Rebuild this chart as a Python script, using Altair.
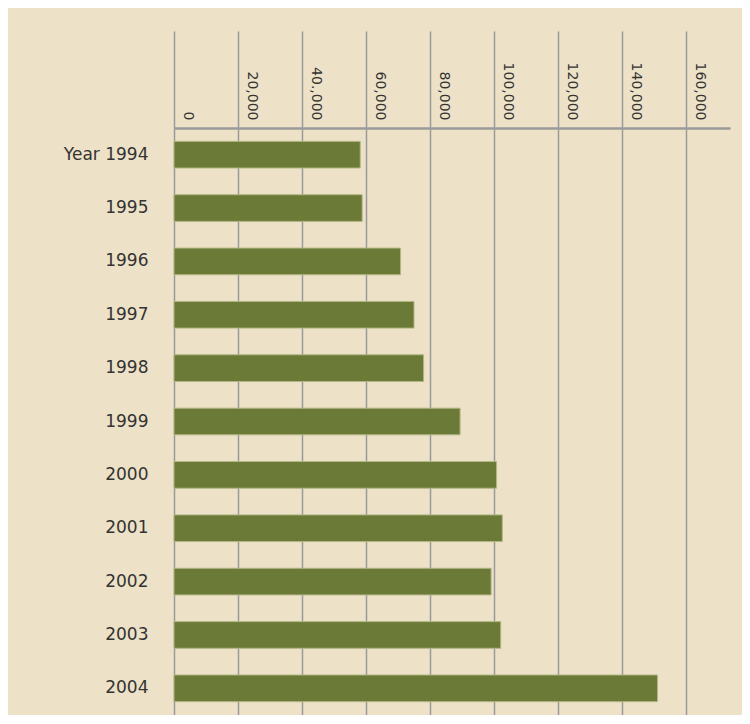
import altair as alt
import pandas as pd

years = ["Year 1994", "1995", "1996", "1997", "1998", "1999",
         "2000", "2001", "2002", "2003", "2004"]
visitors = [58200, 58800, 70800, 75000, 78000, 89400,
            100800, 102600, 99100, 102100, 151100]
tick_values = [0, 20000, 40000, 60000, 80000, 100000, 120000, 140000, 160000]
tick_labels = ["0", "20,000", "40.,000", "60,000", "80,000",
               "100,000", "120,000", "140,000", "160,000"]

df = pd.DataFrame({"year": years, "value": visitors})
label_expr = "[" + ",".join(f"'{t}'" for t in tick_labels) + "][round(datum.value / 20000)]"

GRID = "#9a9a9a"

chart = alt.Chart(df).mark_bar(
    color="#6B7A37", stroke="#B3B785", strokeWidth=1
).encode(
    x=alt.X(
        "value:Q",
        scale=alt.Scale(domain=[0, 173750], nice=False, zero=True),
        axis=alt.Axis(
            orient="top", values=tick_values, labelExpr=label_expr, title=None,
            labelAngle=90, labelAlign="right", labelBaseline="middle",
            labelOffset=13.5, labelPadding=-89,
            tickSize=97, tickColor=GRID, tickWidth=1.5,
            grid=True, gridColor=GRID, gridWidth=1.5,
            domainColor=GRID, domainWidth=2.5,
            labelFont="DejaVu Sans", labelFontSize=14, labelColor="#333333",
            labelFlush=False, labelOverlap=False,
        ),
    ),
    y=alt.Y(
        "year:N", sort=years,
        scale=alt.Scale(paddingInner=0.5, paddingOuter=0.25),
        axis=alt.Axis(
            title=None, domain=False, ticks=False, labelPadding=26,
            labelFont="DejaVu Sans", labelFontSize=17, labelColor="#333333",
        ),
    ),
).properties(
    width=556, height=587, background="#EDE2C7",
    padding={"left": 166, "top": 120, "right": 12, "bottom": 0},
    autosize=alt.AutoSizeParams(type="none"),
).configure_view(stroke=None)

chart.save("out.html", embed_options={"renderer": "svg", "actions": False})
